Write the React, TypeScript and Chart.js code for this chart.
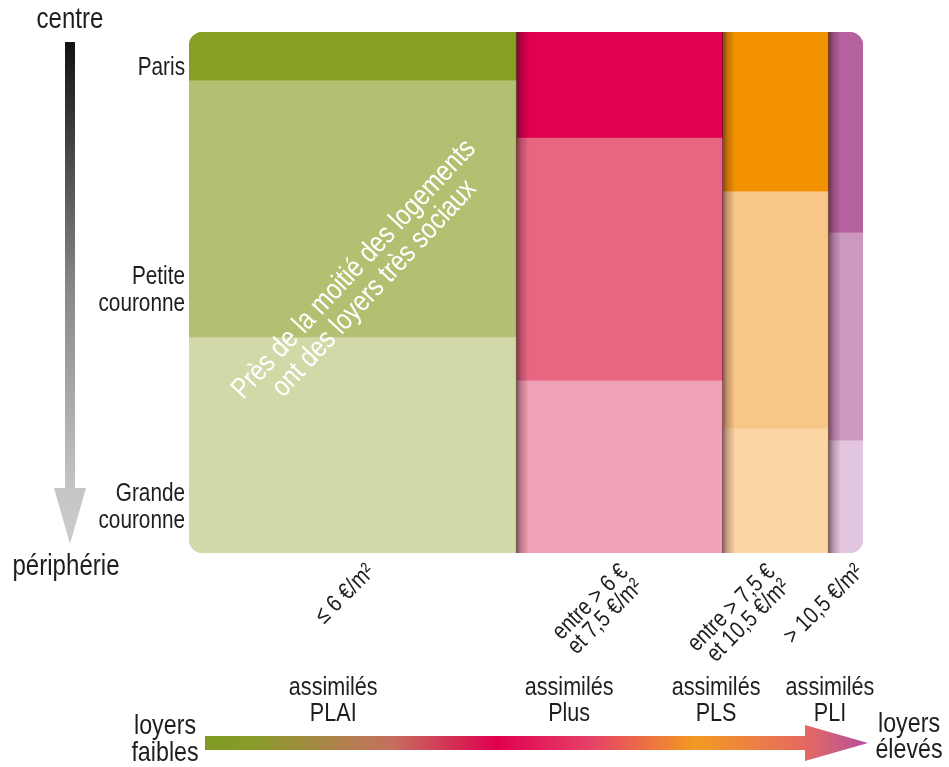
import React, { useEffect, useRef } from "react";
import { Chart, registerables } from "chart.js";

Chart.register(...registerables);

// ---------- data ----------
const rentBands: string[][] = [
  ["≤ 6 €/m²"],
  ["entre > 6 €", "et 7,5 €/m²"],
  ["entre > 7,5 €", "et 10,5 €/m²"],
  ["> 10,5 €/m²"],
];
const housingTypes: string[][] = [
  ["assimilés", "PLAI"],
  ["assimilés", "Plus"],
  ["assimilés", "PLS"],
  ["assimilés", "PLI"],
];
// share of housing stock in each rent band (column widths, %)
const bandShare = [48.5, 30.6, 15.7, 5.2];
const zones: string[][] = [["Paris"], ["Petite", "couronne"], ["Grande", "couronne"]];
// share of each zone inside each rent band (%)
const parisPct = [9.2, 20.2, 30.5, 38.4];
const petitePct = [49.3, 46.6, 45.5, 39.9];
const grandePct = [41.5, 33.2, 24.0, 21.7];
const palette: string[][] = [
  ["#86a024", "#b5bf72", "#d2d8a8"],
  ["#e0004f", "#e96683", "#f0a1b5"],
  ["#f39200", "#f8c686", "#fbd5a3"],
  ["#b5629e", "#cc97c0", "#e2c6df"],
];
// label anchors (axis values)
const zoneLabelAt = [7.0, 49.6, 91.2];
const bandLabelAt = [27.0, 64.6, 86.4, 99.5];
const typeLabelAt = [21.4, 56.4, 78.2, 95.1];
const noteLines = ["Près de la moitié des logements", "ont des loyers très sociaux"];
const noteAt = { x: 26.0, y: 47.4 };

const SANS = "'Liberation Sans', Arial, Helvetica, sans-serif";
const TEXT = "#1e1e1e";
const SX = 0.83; // condensed look

function buildDatasets() {
  const zonePcts = [parisPct, petitePct, grandePct];
  const out: any[] = [];
  let x0 = 0;
  bandShare.forEach((w, c) => {
    const x1 = x0 + w;
    let y0 = 0;
    zonePcts.forEach((arr, z) => {
      const y1 = y0 + arr[c];
      out.push({
        label: zones[z].join(" ") + " " + rentBands[c].join(" "),
        data: [
          { x: x0, y: y0 },
          { x: x1, y: y0 },
          { x: x1, y: y1 },
          { x: x0, y: y1 },
          { x: x0, y: y0 },
        ],
        showLine: true,
        fill: "shape",
        backgroundColor: palette[c][z],
        borderColor: palette[c][z],
        borderWidth: 1,
        pointRadius: 0,
        pointHoverRadius: 0,
        tension: 0,
      });
      y0 = y1;
    });
    x0 = x1;
  });
  return out;
}

function txt(
  ctx: CanvasRenderingContext2D,
  text: string,
  x: number,
  y: number,
  size: number,
  align: CanvasTextAlign = "center",
  rot = 0,
  color = TEXT,
  sx = SX
) {
  ctx.save();
  ctx.translate(x, y);
  if (rot) ctx.rotate(rot);
  ctx.scale(sx, 1);
  ctx.font = `${size}px ${SANS}`;
  ctx.textAlign = align;
  ctx.textBaseline = "middle";
  ctx.fillStyle = color;
  ctx.fillText(text, 0, 0);
  ctx.restore();
}

const decor = {
  id: "decor",
  beforeDatasetsDraw(chart: any) {
    const { ctx, chartArea: a } = chart;
    ctx.save();
    ctx.beginPath();
    ctx.roundRect(a.left, a.top, a.right - a.left, a.bottom - a.top, 13);
    ctx.clip();
  },
  afterDatasetsDraw(chart: any) {
    const { ctx, chartArea: a } = chart;
    const xs = chart.scales.x;
    const ys = chart.scales.y;
    // column shadows
    let acc = 0;
    for (let i = 0; i < bandShare.length - 1; i++) {
      acc += bandShare[i];
      const px = xs.getPixelForValue(acc);
      const g = ctx.createLinearGradient(px, 0, px + 13, 0);
      g.addColorStop(0, "rgba(45,10,25,0.6)");
      g.addColorStop(0.4, "rgba(45,10,25,0.25)");
      g.addColorStop(1, "rgba(45,10,25,0)");
      ctx.fillStyle = g;
      ctx.fillRect(px, a.top, 13, a.bottom - a.top);
    }
    // diagonal note
    const cx = xs.getPixelForValue(noteAt.x);
    const cy = ys.getPixelForValue(noteAt.y);
    const ang = (-47 * Math.PI) / 180;
    const lh = 28;
    noteLines.forEach((t, i) => {
      const off = (i - (noteLines.length - 1) / 2) * lh;
      const ox = -Math.sin(ang) * off;
      const oy = Math.cos(ang) * off;
      txt(ctx, t, cx + ox, cy + oy, 29, "center", ang, "#ffffff");
    });
    ctx.restore();
  },
  afterDraw(chart: any) {
    const { ctx, chartArea: a } = chart;
    const xs = chart.scales.x;
    const ys = chart.scales.y;
    ctx.save();

    // y axis labels (zones)
    zones.forEach((lines, i) => {
      const py = ys.getPixelForValue(zoneLabelAt[i]);
      lines.forEach((t, j) => {
        txt(ctx, t, a.left - 4, py + (j - (lines.length - 1) / 2) * 27, 25, "right");
      });
    });

    // x axis labels (rent bands), rotated 45°
    const rot = -Math.PI / 4;
    const lhx = 21;
    bandLabelAt.forEach((v, i) => {
      const px = xs.getPixelForValue(v) + (lhx / 2) * Math.sin(rot);
      const py = a.bottom + 8;
      rentBands[i].forEach((t, j) => {
        const off = lhx / 2 + j * lhx;
        const ox = -Math.sin(rot) * off;
        const oy = Math.cos(rot) * off;
        txt(ctx, t, px + ox, py + oy, 24, "right", rot);
      });
    });

    // vertical arrow (centre -> périphérie)
    const vg = ctx.createLinearGradient(0, 42, 0, 544);
    vg.addColorStop(0, "#121212");
    vg.addColorStop(0.5, "#8a8a8a");
    vg.addColorStop(0.9, "#c6c6c6");
    vg.addColorStop(1, "#cccccc");
    ctx.fillStyle = vg;
    ctx.beginPath();
    ctx.moveTo(65, 42);
    ctx.lineTo(75, 42);
    ctx.lineTo(75, 488);
    ctx.lineTo(86, 488);
    ctx.lineTo(70, 544);
    ctx.lineTo(54, 488);
    ctx.lineTo(65, 488);
    ctx.closePath();
    ctx.fill();

    txt(ctx, "centre", 70, 20, 29);
    txt(ctx, "périphérie", 66, 567, 29);

    // horizontal arrow (loyers faibles -> élevés)
    const hg = ctx.createLinearGradient(205, 0, 868, 0);
    hg.addColorStop(0, "#7f9c22");
    hg.addColorStop(0.08, "#8a9a2c");
    hg.addColorStop(0.28, "#c5705e");
    hg.addColorStop(0.44, "#e0004f");
    hg.addColorStop(0.58, "#e64068");
    hg.addColorStop(0.74, "#f29a22");
    hg.addColorStop(0.9, "#e66a5e");
    hg.addColorStop(1, "#b54fa0");
    ctx.fillStyle = hg;
    ctx.beginPath();
    ctx.moveTo(205, 736);
    ctx.lineTo(805, 736);
    ctx.lineTo(805, 725);
    ctx.lineTo(868, 743);
    ctx.lineTo(805, 761);
    ctx.lineTo(805, 750);
    ctx.lineTo(205, 750);
    ctx.closePath();
    ctx.fill();

    txt(ctx, "loyers", 165, 726, 28);
    txt(ctx, "faibles", 165, 753, 28);
    txt(ctx, "loyers", 909, 724, 28);
    txt(ctx, "élevés", 909, 750, 28);

    // housing type labels
    housingTypes.forEach((lines, i) => {
      const px = xs.getPixelForValue(typeLabelAt[i]);
      lines.forEach((t, j) => txt(ctx, t, px, 688 + j * 26, 26));
    });
    ctx.restore();
  },
};

export default function App() {
  const ref = useRef<HTMLCanvasElement | null>(null);
  useEffect(() => {
    if (!ref.current) return;
    const chart = new Chart(ref.current, {
      type: "scatter",
      data: { datasets: buildDatasets() },
      options: {
        animation: false,
        responsive: false,
        devicePixelRatio: 1,
        layout: { padding: { top: 32, right: 86, left: 0, bottom: 0 } },
        plugins: { legend: { display: false }, tooltip: { enabled: false } },
        events: [],
        scales: {
          x: {
            type: "linear",
            min: 0,
            max: 100,
            grid: { display: false, drawTicks: false },
            border: { display: false },
            afterFit: (s: any) => {
              s.height = 214;
            },
            afterBuildTicks: (s: any) => {
              s.ticks = bandLabelAt.map((v) => ({ value: v }));
            },
            ticks: { display: false, autoSkip: false },
          },
          y: {
            type: "linear",
            min: 0,
            max: 100,
            reverse: true,
            grid: { display: false, drawTicks: false },
            border: { display: false },
            afterFit: (s: any) => {
              s.width = 189;
            },
            afterBuildTicks: (s: any) => {
              s.ticks = zoneLabelAt.map((v) => ({ value: v }));
            },
            ticks: { display: false, autoSkip: false },
          },
        },
      },
      plugins: [decor],
    });
    return () => chart.destroy();
  }, []);
  return (
    <div style={{ position: "fixed", left: 0, top: 0, width: 949, height: 767, background: "#fff" }}>
      <canvas ref={ref} width={949} height={767} />
    </div>
  );
}
